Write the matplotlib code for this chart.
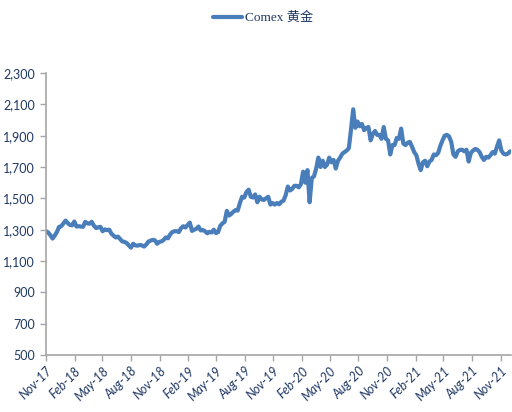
import matplotlib
matplotlib.use("Agg")
import matplotlib.pyplot as plt
import pandas as pd

# Weekly COMEX gold prices (USD/oz), one value per Monday from 2017-11-20
first_week = "2017-11-20"
prices = [
    # 2017
    1291, 1282, 1265, 1243, 1262, 1285,
    # 2018
    1318, 1322, 1340, 1358, 1342, 1330, 1328, 1352, 1320, 1322, 1320, 1318, 1350,
    1340, 1338, 1350, 1325, 1310, 1315, 1318, 1290, 1302, 1297, 1300, 1275, 1262,
    1250, 1256, 1240, 1225, 1222, 1215, 1200, 1185, 1210, 1200, 1198, 1202, 1200,
    1192, 1205, 1224, 1230, 1235, 1232, 1210, 1222, 1225, 1235, 1250, 1245, 1270,
    1285,
    # 2019
    1290, 1290, 1285, 1310, 1322, 1314, 1330, 1345, 1292, 1300, 1305, 1320, 1295,
    1298, 1290, 1277, 1286, 1282, 1300, 1278, 1285, 1325, 1340, 1350, 1420, 1390,
    1400, 1415, 1425, 1422, 1470, 1510, 1505, 1540, 1555, 1510, 1505, 1525, 1475,
    1510, 1493, 1490, 1500, 1510, 1460, 1470, 1460, 1470, 1462, 1478, 1485, 1520,
    # 2020
    1575, 1550, 1560, 1580, 1580, 1570, 1590, 1670, 1600, 1680, 1475, 1630, 1640,
    1690, 1760, 1700, 1740, 1700, 1715, 1760, 1730, 1745, 1690, 1740, 1760, 1785,
    1795, 1805, 1820, 1940, 2068, 1950, 1990, 1960, 1975, 1935, 1950, 1955, 1870,
    1910, 1930, 1905, 1905, 1880, 1955, 1880, 1870, 1780, 1840, 1840, 1885, 1880,
    # 2021
    1945, 1850, 1840, 1855, 1860, 1830, 1795, 1775, 1720, 1680, 1730, 1740, 1705,
    1735, 1745, 1780, 1775, 1790, 1835, 1870, 1900, 1905, 1895, 1860, 1780, 1765,
    1800, 1810, 1810, 1800, 1810, 1735, 1790, 1805, 1815, 1810, 1795, 1765, 1745,
    1765, 1760, 1775, 1795, 1785, 1830, 1870, 1805, 1785, 1780, 1785, 1800,
]
series_name = "Comex 黄金"
y_ticks = [500, 700, 900, 1100, 1300, 1500, 1700, 1900, 2100, 2300]

dates = pd.date_range(first_week, periods=len(prices), freq="7D")

line_color = "#4a7ebb"
text_color = "#1f3864"
axis_color = "#a6a6a6"

fig = plt.figure(figsize=(5.12, 4.12), dpi=100)
ax = fig.add_axes([46 / 512, 1 - 355 / 412, (511 - 46) / 512, (355 - 73) / 412])

ax.plot(dates, prices, color=line_color, lw=3.0, solid_joinstyle="round",
        solid_capstyle="round", label=series_name)

ax.set_ylim(500, 2300)
ax.set_yticks(y_ticks)
ax.set_yticklabels([f"{v:,}" for v in y_ticks], fontfamily="Lato",
                   fontsize=9, color=text_color)

# quarterly ticks on the 20th of Nov / Feb / May / Aug
ax.set_xlim(pd.Timestamp("2017-11-20"), pd.Timestamp("2021-12-23"))
x_ticks = pd.date_range("2017-11-01", "2021-11-01", freq="3MS") + pd.Timedelta(days=19)
ax.set_xticks(x_ticks)
ax.set_xticklabels([d.strftime("%b-%y") for d in x_ticks], fontfamily="Lato",
                   fontsize=9, color=text_color, fontstyle="italic", rotation=45,
                   ha="right", va="top", rotation_mode="anchor")

for side in ("top", "right"):
    ax.spines[side].set_visible(False)
for side in ("left", "bottom"):
    ax.spines[side].set_color(axis_color)
    ax.spines[side].set_linewidth(1.2)

ax.tick_params(axis="both", color=axis_color, length=4, width=1)
ax.tick_params(axis="y", pad=4)
ax.tick_params(axis="x", pad=3)

leg = fig.legend(loc="center", bbox_to_anchor=(263 / 512, 1 - 18 / 412), frameon=False,
                 handlelength=2.2, handletextpad=0.2,
                 prop={"family": ["Liberation Serif", "Noto Sans CJK SC"], "size": 9.5})
for t in leg.get_texts():
    t.set_color(text_color)
for h in leg.get_lines():
    h.set_linewidth(3)

fig.savefig("out.png", dpi=100)
